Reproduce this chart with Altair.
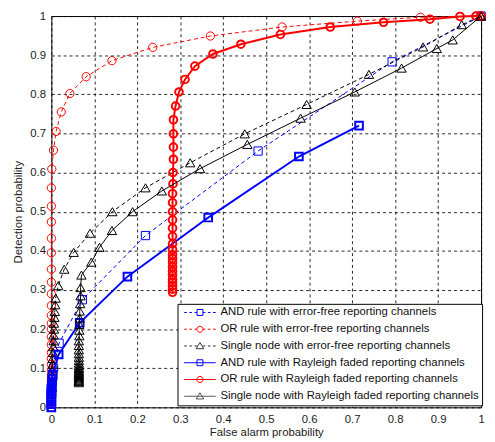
import altair as alt
import pandas as pd

SERIES = [
    "AND rule with error-free reporting channels",
    "OR rule with error-free reporting channels",
    "Single node with error-free reporting channels",
    "AND rule with Rayleigh faded reporting channels",
    "OR rule with Rayleigh faded reporting channels",
    "Single node with Rayleigh faded reporting channels",
]

# AND rule, error-free (blue dashed, squares)
AND_EF_X = [0, 0, 0, 0.001, 0.001, 0.002, 0.003, 0.005, 0.018, 0.072, 0.219, 0.481, 0.793, 1.0]
AND_EF_Y = [0, 0.012, 0.024, 0.036, 0.05, 0.065, 0.08, 0.1, 0.164, 0.275, 0.439, 0.655, 0.883, 1.0]

# OR rule, error-free (red dashed, circles)
OR_EF_X = [0, 0, 0, 0, 0, 0, 0, 0, 0, 0, 0, 0, 0, 0, 0, 0, 0, 0, 0, 0, 0, 0, 0, 0, 0,
           0.001, 0.005, 0.011, 0.023, 0.043, 0.081, 0.141, 0.236, 0.370, 0.537, 0.712, 0.859, 0.951, 0.99, 1.0]
OR_EF_Y = [0, 0.01, 0.02, 0.035, 0.05, 0.065, 0.08, 0.095, 0.11, 0.125, 0.14, 0.16, 0.18, 0.2, 0.215,
           0.235, 0.26, 0.29, 0.32, 0.353, 0.395, 0.432, 0.474, 0.514, 0.561,
           0.609, 0.657, 0.705, 0.755, 0.802, 0.845, 0.886, 0.920, 0.949, 0.972, 0.987, 0.997, 0.999, 1.0, 1.0]

# Single node, error-free (black dashed, triangles)
SN_EF_X = [0.001, 0.001, 0.002, 0.002, 0.003, 0.003, 0.004, 0.004, 0.005, 0.005, 0.006, 0.006, 0.007,
           0.008, 0.009, 0.010, 0.016, 0.030, 0.052, 0.090, 0.142, 0.219, 0.323, 0.450, 0.594, 0.739,
           0.865, 0.955, 1.0]
SN_EF_Y = [0.05, 0.065, 0.08, 0.095, 0.11, 0.125, 0.14, 0.155, 0.17, 0.185, 0.2, 0.215, 0.23,
           0.245, 0.262, 0.279, 0.311, 0.353, 0.396, 0.445, 0.500, 0.561, 0.625, 0.699, 0.774, 0.851,
           0.921, 0.978, 1.0]

# AND rule, Rayleigh faded (blue solid, squares)
AND_RF_X = [0, 0, 0, 0, 0, 0, 0, 0.001, 0.001, 0.002, 0.003, 0.017, 0.066, 0.177, 0.365, 0.576, 0.716]
AND_RF_Y = [0, 0.008, 0.016, 0.024, 0.032, 0.04, 0.048, 0.056, 0.064, 0.072, 0.084, 0.135, 0.216,
            0.334, 0.485, 0.641, 0.720]

# OR rule, Rayleigh faded (red solid, circles)
OR_RF_X = [0.282, 0.282, 0.282, 0.282, 0.282, 0.282, 0.282, 0.282, 0.282, 0.282, 0.282, 0.282,
           0.282, 0.282, 0.282, 0.282, 0.282, 0.282, 0.282, 0.283, 0.283, 0.284, 0.284, 0.284,
           0.284, 0.289, 0.297, 0.311, 0.334, 0.376, 0.441, 0.533, 0.649, 0.773, 0.881, 0.951,
           0.988, 1.0]
OR_RF_Y = [0.294, 0.302, 0.311, 0.319, 0.327, 0.338, 0.348, 0.359, 0.370, 0.380, 0.390, 0.403,
           0.418, 0.437, 0.458, 0.479, 0.500, 0.523, 0.546, 0.571, 0.600, 0.634, 0.665, 0.699,
           0.735, 0.770, 0.806, 0.838, 0.872, 0.903, 0.928, 0.953, 0.972, 0.984, 0.992, 0.999,
           1.0, 1.0]

# Single node, Rayleigh faded (black solid, triangles)
SN_RF_X = [0.064, 0.064, 0.064, 0.064, 0.064, 0.064, 0.064, 0.064, 0.064, 0.064,
           0.064, 0.064, 0.064, 0.064, 0.064, 0.064, 0.064, 0.064, 0.064, 0.064,
           0.064, 0.065, 0.065, 0.065, 0.066, 0.066, 0.067, 0.068, 0.068,
           0.070, 0.093, 0.112, 0.141, 0.189, 0.257, 0.346, 0.456, 0.580, 0.706, 0.815, 0.897,
           0.934, 1.0]
SN_RF_Y = [0.063, 0.066, 0.069, 0.072, 0.075, 0.078, 0.081, 0.084, 0.087, 0.090,
           0.094, 0.098, 0.102, 0.107, 0.113, 0.120, 0.128, 0.137, 0.147, 0.158,
           0.170, 0.183, 0.197, 0.212, 0.228, 0.246, 0.265, 0.285, 0.306,
           0.338, 0.371, 0.409, 0.452, 0.500, 0.553, 0.610, 0.672, 0.739, 0.806, 0.867, 0.917,
           0.939, 1.0]

TICKS = [0, 0.1, 0.2, 0.3, 0.4, 0.5, 0.6, 0.7, 0.8, 0.9, 1.0]
TICK_LABELS = ["0", "0.1", "0.2", "0.3", "0.4", "0.5", "0.6", "0.7", "0.8", "0.9", "1"]

ALL_X = [AND_EF_X, OR_EF_X, SN_EF_X, AND_RF_X, OR_RF_X, SN_RF_X]
ALL_Y = [AND_EF_Y, OR_EF_Y, SN_EF_Y, AND_RF_Y, OR_RF_Y, SN_RF_Y]

# styles
COLORS = ["#0000ff", "#ff0000", "#000000", "#0000ff", "#ff0000", "#000000"]
LEGEND_COLORS = ["#0000ff", "#ff0000", "#333333", "#0000ff", "#ff0000", "#555555"]
DASHED = [True, True, True, False, False, False]
LINE_W = [1, 1, 1, 2, 2, 1]
LEGEND_W = [1, 1, 1, 2, 2, 2]
SHAPES = ["square", "circle", "triangle-up", "square", "circle", "triangle-up"]
SIZES = [70, 70, 90, 60, 60, 90]

SQ = "M-0.6,-0.6H0.6V0.6H-0.6Z"
CI = "M0.62,0A0.62,0.62 0 1,1 -0.62,0A0.62,0.62 0 1,1 0.62,0Z"
TR = "M0,-0.7L0.78,0.55H-0.78Z"
DASH_LINE = "M-3.2,0H-2.65M-2.15,0H-1.6M-1.1,0H-0.6M0.6,0H1.1M1.6,0H2.15M2.65,0H3.2"
SOLID_LINE = "M-3.2,0H3.2"
LEGEND_PATHS = [DASH_LINE + SQ, DASH_LINE + CI, DASH_LINE + TR,
                SOLID_LINE + SQ, SOLID_LINE + CI, SOLID_LINE + TR]

rows = []
for s, xs, ys in zip(SERIES, ALL_X, ALL_Y):
    for i, (x, y) in enumerate(zip(xs, ys)):
        rows.append({"series": s, "x": x, "y": y, "i": i})
df = pd.DataFrame(rows)

FONT = "Liberation Sans"

label_expr = "{" + ",".join(f"'{v}':'{t}'" for v, t in zip(TICKS, TICK_LABELS)) + "}[datum.value + '']"

x_axis = alt.Axis(values=TICKS, labelExpr="datum.value == 0 ? '0' : datum.value == 1 ? '1' : format(datum.value, '.1f')",
                  title="False alarm probability", grid=True, ticks=False, domain=False,
                  labelPadding=6, titlePadding=2, labelOverlap=False, labelFlush=False)
y_axis = alt.Axis(values=TICKS, labelExpr="datum.value == 0 ? '0' : datum.value == 1 ? '1' : format(datum.value, '.1f')",
                  title="Detection probability", grid=True, ticks=False, domain=False,
                  labelPadding=6, titlePadding=6, labelOverlap=False, labelFlush=False)
x_enc = alt.X("x:Q", scale=alt.Scale(domain=[0, 1], nice=False), axis=x_axis)
y_enc = alt.Y("y:Q", scale=alt.Scale(domain=[0, 1], nice=False), axis=y_axis)

layers = []
for k, s in enumerate(SERIES):
    base = alt.Chart(df).transform_filter(alt.datum.series == s)
    line_kw = dict(color=COLORS[k], strokeWidth=LINE_W[k])
    if DASHED[k]:
        line_kw["strokeDash"] = [4, 3]
    layers.append(base.mark_line(**line_kw).encode(x=x_enc, y=y_enc, order="i:Q"))
    layers.append(base.mark_point(shape=SHAPES[k], size=SIZES[k], filled=False,
                                  color=COLORS[k], strokeWidth=LINE_W[k], opacity=1)
                  .encode(x=x_enc, y=y_enc))

LEG = alt.Legend(title=None, orient="none", legendX=128, legendY=292,
                 symbolSize=100, symbolOffset=14, labelOffset=15, padding=3,
                 rowPadding=4, labelFontSize=11.5, labelFont=FONT, labelColor="#111",
                 labelLimit=400, strokeColor="black", fillColor="white",
                 symbolOpacity=1, cornerRadius=0)

legend_layer = alt.Chart(df).mark_point(filled=False).encode(
    x=x_enc, y=y_enc,
    color=alt.Color("series:N", scale=alt.Scale(domain=SERIES, range=LEGEND_COLORS), legend=LEG),
    shape=alt.Shape("series:N", scale=alt.Scale(domain=SERIES, range=LEGEND_PATHS), legend=LEG),
    strokeWidth=alt.StrokeWidth("series:N", scale=alt.Scale(domain=SERIES, range=LEGEND_W), legend=LEG),
    opacity=alt.value(0),
)
layers.append(legend_layer)

chart = alt.layer(*layers).properties(
    width=436, height=397,
    padding={"left": 44, "top": 5, "right": 6, "bottom": 32},
    autosize=alt.AutoSizeParams(type="none"),
    background="white",
).configure_view(
    stroke="black", strokeWidth=1
).configure_axis(
    labelFont=FONT, labelFontSize=11.5, labelColor="#222",
    titleFont=FONT, titleFontSize=11.5, titleFontWeight="normal", titleColor="#222",
    gridColor="#000000", gridDash=[3, 3], gridWidth=1, gridOpacity=0.85,
)

chart.save("out.html", embed_options={"renderer": "svg", "actions": False})
